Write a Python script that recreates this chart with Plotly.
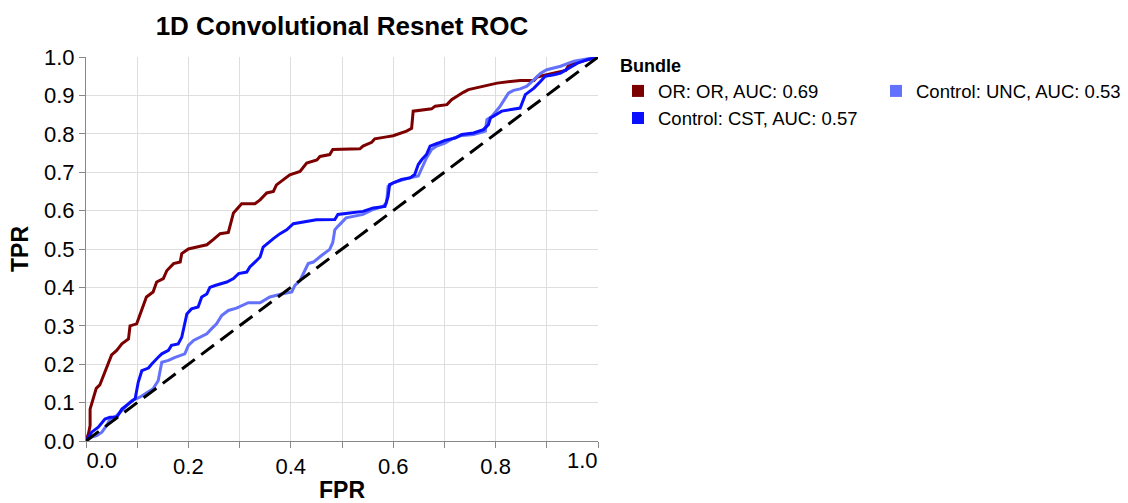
import plotly.graph_objects as go

# ---------------- data ----------------
or_fpr = [0, 0.005, 0.008, 0.008, 0.014, 0.02, 0.027, 0.034, 0.044, 0.05, 0.06, 0.07, 0.083, 0.086,
          0.099, 0.109, 0.118, 0.131, 0.138, 0.151, 0.158, 0.171, 0.184, 0.187, 0.20, 0.223, 0.236,
          0.249, 0.262, 0.278, 0.283, 0.288, 0.304, 0.33, 0.34, 0.353, 0.366, 0.372, 0.385, 0.398,
          0.418, 0.431, 0.451, 0.457, 0.476, 0.482, 0.535, 0.541, 0.558, 0.564, 0.587, 0.60, 0.626,
          0.636, 0.639, 0.675, 0.682, 0.705, 0.714, 0.724, 0.737, 0.747, 0.803, 0.848, 0.875, 0.881,
          0.914, 0.937, 0.943, 0.96, 0.979, 0.995, 1.0]
or_tpr = [0, 0.02, 0.04, 0.083, 0.11, 0.137, 0.146, 0.17, 0.20, 0.224, 0.236, 0.253, 0.266, 0.30,
          0.305, 0.344, 0.375, 0.388, 0.414, 0.423, 0.444, 0.462, 0.466, 0.488, 0.50, 0.507, 0.511,
          0.525, 0.54, 0.543, 0.568, 0.594, 0.618, 0.618, 0.628, 0.646, 0.65, 0.667, 0.68, 0.693,
          0.702, 0.724, 0.732, 0.741, 0.746, 0.759, 0.761, 0.768, 0.778, 0.787, 0.792, 0.795, 0.807,
          0.814, 0.859, 0.865, 0.872, 0.876, 0.889, 0.898, 0.908, 0.915, 0.932, 0.939, 0.939, 0.948,
          0.957, 0.965, 0.98, 0.986, 0.993, 0.997, 1.0]

cst_fpr = [0, 0.011, 0.024, 0.037, 0.047, 0.06, 0.07, 0.086, 0.096, 0.102, 0.109, 0.122, 0.128,
           0.141, 0.148, 0.161, 0.167, 0.18, 0.187, 0.197, 0.206, 0.219, 0.226, 0.236, 0.242, 0.252,
           0.275, 0.288, 0.298, 0.314, 0.32, 0.33, 0.34, 0.346, 0.356, 0.366, 0.379, 0.392, 0.405,
           0.4375, 0.45, 0.486, 0.492, 0.515, 0.541, 0.561, 0.584, 0.59, 0.593, 0.607, 0.616, 0.633,
           0.642, 0.649, 0.656, 0.665, 0.672, 0.688, 0.701, 0.721, 0.734, 0.757, 0.776, 0.786, 0.79,
           0.812, 0.835, 0.848, 0.858, 0.875, 0.888, 0.897, 0.914, 0.927, 0.943, 0.96, 0.979, 1.0]
cst_tpr = [0, 0.023, 0.036, 0.057, 0.062, 0.062, 0.083, 0.10, 0.11, 0.153, 0.183, 0.19, 0.20,
           0.218, 0.227, 0.236, 0.249, 0.253, 0.27, 0.331, 0.344, 0.349, 0.375, 0.383, 0.40, 0.405,
           0.414, 0.423, 0.436, 0.44, 0.453, 0.466, 0.479, 0.505, 0.517, 0.527, 0.54, 0.55, 0.566,
           0.572, 0.576, 0.577, 0.59, 0.594, 0.598, 0.607, 0.611, 0.637, 0.668, 0.676, 0.681, 0.685,
           0.694, 0.72, 0.733, 0.746, 0.768, 0.776, 0.783, 0.789, 0.798, 0.802, 0.811, 0.824, 0.841,
           0.859, 0.863, 0.867, 0.902, 0.919, 0.937, 0.95, 0.954, 0.958, 0.971, 0.984, 0.993, 1.0]

unc_fpr = [0, 0.011, 0.021, 0.031, 0.04, 0.047, 0.06, 0.073, 0.089, 0.105, 0.122, 0.131, 0.141,
           0.148, 0.161, 0.174, 0.193, 0.20, 0.21, 0.223, 0.236, 0.245, 0.255, 0.265, 0.278, 0.294,
           0.304, 0.317, 0.34, 0.359, 0.382, 0.402, 0.408, 0.418, 0.434, 0.444, 0.46, 0.476, 0.482,
           0.486, 0.492, 0.508, 0.541, 0.561, 0.58, 0.587, 0.59, 0.60, 0.62, 0.63, 0.649, 0.656,
           0.665, 0.675, 0.685, 0.701, 0.718, 0.731, 0.757, 0.78, 0.783, 0.793, 0.809, 0.825, 0.835,
           0.848, 0.861, 0.875, 0.888, 0.90, 0.927, 0.953, 0.979, 1.0]
unc_tpr = [0, 0.01, 0.014, 0.023, 0.04, 0.057, 0.066, 0.083, 0.105, 0.114, 0.127, 0.136, 0.157,
           0.205, 0.21, 0.218, 0.227, 0.249, 0.262, 0.27, 0.279, 0.292, 0.305, 0.327, 0.34, 0.346,
           0.353, 0.36, 0.36, 0.375, 0.383, 0.388, 0.405, 0.418, 0.462, 0.466, 0.483, 0.499, 0.517,
           0.55, 0.559, 0.581, 0.59, 0.603, 0.611, 0.62, 0.663, 0.672, 0.681, 0.685, 0.69, 0.711,
           0.737, 0.759, 0.768, 0.776, 0.789, 0.795, 0.798, 0.807, 0.837, 0.846, 0.872, 0.906, 0.913,
           0.917, 0.924, 0.941, 0.958, 0.967, 0.976, 0.989, 0.995, 1.0]

chance_fpr = [0, 1]
chance_tpr = [0, 1]

series_names = ["OR: OR, AUC: 0.69", "Control: UNC, AUC: 0.53", "Control: CST, AUC: 0.57"]
series_colors = ["#7d0000", "#6371fb", "#0a10ff"]

tick_vals = [i / 10 for i in range(11)]
y_tick_text = ["0.0", "0.1", "0.2", "0.3", "0.4", "0.5", "0.6", "0.7", "0.8", "0.9", "1.0"]
x_tick_text = ["", "", "0.2", "", "0.4", "", "0.6", "", "0.8", "", ""]

FONT = "Liberation Sans, Arial, Helvetica, sans-serif"

fig = go.Figure()

curves = [(or_fpr, or_tpr), (unc_fpr, unc_tpr), (cst_fpr, cst_tpr)]
for (fx, ty), name, col in zip(curves, series_names, series_colors):
    fig.add_trace(go.Scatter(x=fx, y=ty, mode="lines", line=dict(color=col, width=3),
                             showlegend=False, hoverinfo="skip", name=name))

# chance diagonal, drawn on the overlay axis that carries the flush "0.0" label
fig.add_trace(go.Scatter(x=chance_fpr, y=chance_tpr, mode="lines", xaxis="x2",
                         line=dict(color="black", width=3, dash="16px,8px"),
                         showlegend=False, hoverinfo="skip"))

# legend entries (square symbols), on the overlay axis carrying the flush "1.0" label
for i, (name, col) in enumerate(zip(series_names, series_colors)):
    fig.add_trace(go.Scatter(x=[None], y=[None], mode="markers", name=name, xaxis="x3",
                             marker=dict(symbol="square", size=12, color=col),
                             legendrank=i + 1))

tickfont = dict(family=FONT, size=22, color="black")
common_axis = dict(range=[0, 1], tickvals=tick_vals, ticks="outside", ticklen=6,
                   tickcolor="#888", tickwidth=1, zeroline=False, fixedrange=True)

fig.update_layout(
    width=1128, height=503,
    margin=dict(l=86, r=530, t=57, b=62, autoexpand=False),
    paper_bgcolor="white", plot_bgcolor="white",
    font=dict(family=FONT, color="black"),
    title=dict(text="1D Convolutional Resnet ROC", x=0.5, xref="paper", xanchor="center",
               y=1 - 25.5 / 503, yref="container", yanchor="middle",
               font=dict(family=FONT, size=26, color="black", weight=700)),
    xaxis=dict(**common_axis, ticktext=x_tick_text, showgrid=True, gridcolor="#dedede",
               gridwidth=1, showline=True, linecolor="#888", linewidth=1, tickfont=tickfont,
               title=dict(text="FPR", font=dict(family=FONT, size=23, color="black", weight=700),
                          standoff=13)),
    xaxis2=dict(range=[0, 1], overlaying="x", anchor="y", side="bottom", tickvals=[0],
                ticktext=["0.0"], ticklabelposition="outside right", ticks="outside", ticklen=6,
                tickcolor="#888", showgrid=False, showline=False, zeroline=False,
                tickfont=tickfont, fixedrange=True),
    xaxis3=dict(range=[0, 1], overlaying="x", anchor="y", side="bottom", tickvals=[1],
                ticktext=["1.0"], ticklabelposition="outside left", ticks="outside", ticklen=6,
                tickcolor="#888", showgrid=False, showline=False, zeroline=False,
                tickfont=tickfont, fixedrange=True),
    yaxis=dict(**common_axis, ticktext=y_tick_text, showgrid=True, gridcolor="#dedede",
               gridwidth=1, showline=True, linecolor="#888", linewidth=1, tickfont=tickfont,
               title=dict(text="TPR", font=dict(family=FONT, size=23, color="black", weight=700),
                          standoff=8)),
    legend=dict(orientation="h", x=(618 - 86) / 512, xanchor="left", y=1 + 8 / 384,
                yanchor="top",
                title=dict(text="Bundle", side="top",
                           font=dict(family=FONT, size=18, color="black", weight=700)),
                font=dict(family=FONT, size=18.5, color="black"),
                entrywidth=213, entrywidthmode="pixels", itemclick=False,
                bgcolor="rgba(0,0,0,0)", tracegroupgap=0),
)

fig.write_html("out.html", config={"displayModeBar": False},
               post_script="document.body.style.margin='0';")
